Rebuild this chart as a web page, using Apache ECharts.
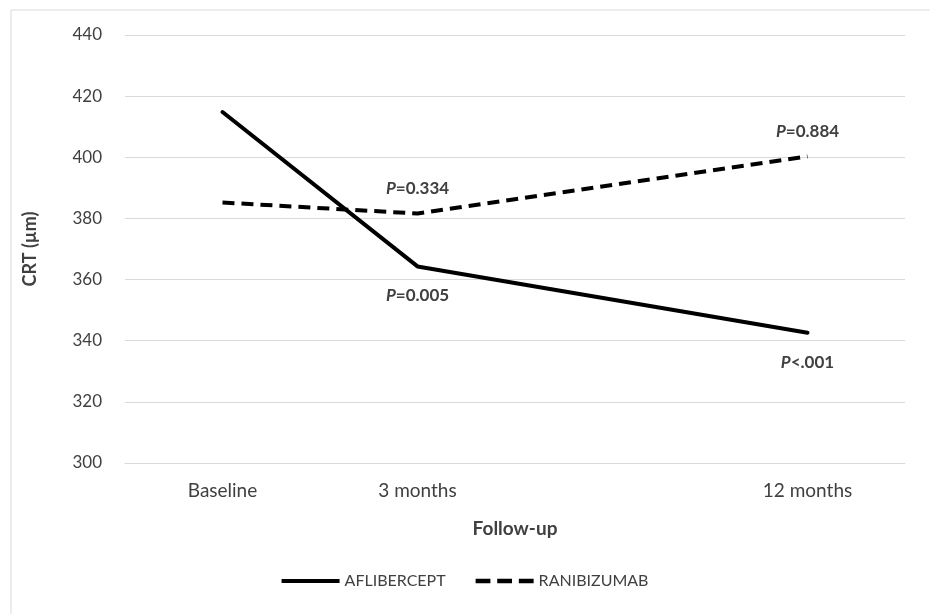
<!DOCTYPE html>
<html><head><meta charset="utf-8">
<script src="https://cdn.jsdelivr.net/npm/echarts@6/dist/echarts.min.js"></script>
<style>html,body{margin:0;padding:0;background:#fff}#c{width:930px;height:614px}</style>
</head><body><div id="c"></div>
<script>
const categories = ['Baseline', '3 months', '', '12 months'];
const aflibercept = [414.8, 364.3, null, 342.6];
const ranibizumab = [385.2, 381.6, null, 400.3];
const aflLabels = ['', 'P|=0.005', '', 'P|<.001'];
const ranLabels = ['', 'P|=0.334', '', 'P|=0.884'];
const yTicks = {min: 300, max: 440, interval: 20};

const FONT = 'Lato, "Open Sans", sans-serif';
const rich = {
  i: {fontStyle: 'italic', fontWeight: 'bold', fontSize: 17, color: '#404040', fontFamily: FONT},
  b: {fontWeight: 'bold', fontSize: 17, color: '#404040', fontFamily: FONT}
};
function fmt(arr) {
  return function (p) {
    const s = arr[p.dataIndex];
    if (!s) return '';
    const parts = s.split('|');
    return '{i|' + parts[0] + '}{b|' + parts[1] + '}';
  };
}
const chart = echarts.init(document.getElementById('c'));
chart.setOption({
  animation: false,
  textStyle: {fontFamily: FONT},
  graphic: [{type: 'rect', shape: {x: 11, y: 10, width: 940, height: 620}, style: {fill: 'none', stroke: '#d9d9d9', lineWidth: 1}, silent: true}],
  grid: {left: 125, right: 25, top: 35, bottom: 151},
  legend: {
    bottom: 20, left: 'center', itemWidth: 58, itemHeight: 14, itemGap: 30,
    textStyle: {fontSize: 16, color: '#404040', fontFamily: FONT},
    data: [
      {name: 'AFLIBERCEPT', icon: 'path://M0,0 L58,0 L58,4 L0,4 Z', itemStyle: {color: '#000'}},
      {name: 'RANIBIZUMAB', icon: 'path://M4,0 L17,0 L17,4 L4,4 Z M23,0 L36,0 L36,4 L23,4 Z M42,0 L55,0 L55,4 L42,4 Z', itemStyle: {color: '#000'}}
    ]
  },
  xAxis: {
    type: 'category', data: categories, boundaryGap: true,
    name: 'Follow-up', nameLocation: 'middle', nameGap: 56,
    nameTextStyle: {fontSize: 19, fontWeight: 'bold', color: '#404040'},
    axisLine: {show: true, lineStyle: {color: '#d9d9d9'}},
    axisTick: {show: false},
    axisLabel: {fontSize: 19, color: '#404040', margin: 18}
  },
  yAxis: {
    type: 'value', min: yTicks.min, max: yTicks.max, interval: yTicks.interval,
    name: 'CRT (µm)', nameLocation: 'middle', nameGap: 86, nameRotate: 90,
    nameTextStyle: {fontSize: 18, fontWeight: 'bold', color: '#404040'},
    axisLine: {show: false}, axisTick: {show: false},
    axisLabel: {fontSize: 17, color: '#404040', margin: 23},
    splitLine: {lineStyle: {color: '#d9d9d9', width: 1}}
  },
  series: [
    {
      name: 'AFLIBERCEPT', type: 'line', data: aflibercept, connectNulls: true,
      symbol: 'circle', symbolSize: 0.1, showSymbol: true,
      lineStyle: {color: '#000', width: 4, cap: 'round'},
      itemStyle: {color: '#000'},
      label: {show: true, position: 'bottom', distance: 21, formatter: fmt(aflLabels), rich: rich}
    },
    {
      name: 'RANIBIZUMAB', type: 'line', data: ranibizumab, connectNulls: true,
      symbol: 'circle', symbolSize: 0.1, showSymbol: true,
      lineStyle: {color: '#000', width: 4, type: [12, 7], cap: 'butt'},
      itemStyle: {color: '#000'},
      label: {show: true, position: 'top', distance: 16, formatter: fmt(ranLabels), rich: rich}
    }
  ]
});
</script></body></html>
